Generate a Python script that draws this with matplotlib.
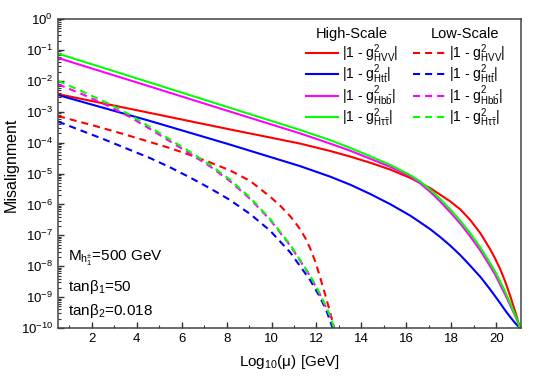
import numpy as np
import matplotlib
matplotlib.use("Agg")
import matplotlib.pyplot as plt
from matplotlib.ticker import LogLocator, MultipleLocator, NullFormatter

plt.rcParams['font.family'] = ['Liberation Sans', 'DejaVu Sans']
plt.rcParams['mathtext.fontset'] = 'custom'
plt.rcParams['mathtext.rm'] = 'Liberation Sans'
plt.rcParams['mathtext.it'] = 'Liberation Sans'
plt.rcParams['mathtext.default'] = 'regular'

# ---- data ----
# x = log10(mu/GeV), lg = log10(misalignment)
# high-scale (solid)
x_hvv_hi = [0.5, 4.6, 8.0, 11.27, 12.61, 13.5, 14.39, 15.28, 16.17, 17.06, 17.95, 18.4, 18.84, 19.3,
            19.73, 19.95, 20.18, 20.4, 20.62, 20.8, 20.92, 21.05]
lg_hvv_hi = [-2.43, -3.04, -3.55, -4.03, -4.27, -4.45, -4.65, -4.87, -5.14, -5.47, -5.90, -6.16, -6.50, -6.94,
             -7.45, -7.75, -8.10, -8.50, -8.96, -9.37, -9.65, -10.0]
x_htt_hi = [0.5, 4.6, 8.0, 11.27, 12.61, 13.5, 14.39, 15.28, 16.17, 16.6, 17.06, 17.5, 17.95, 18.4, 18.84,
            19.3, 19.73, 19.95, 20.18, 20.4, 20.62, 20.82, 21.05]
lg_htt_hi = [-2.46, -3.30, -4.03, -4.76, -5.10, -5.36, -5.66, -5.99, -6.36, -6.57, -6.80, -7.05, -7.33, -7.64, -7.98,
             -8.35, -8.75, -8.97, -9.20, -9.43, -9.64, -9.82, -10.0]
x_hbb_hi = [0.5, 4.0, 8.0, 11.27, 12.61, 13.5, 14.39, 15.28, 16.17, 16.6, 17.06, 17.5, 17.95, 18.4, 18.84,
            19.3, 19.73, 19.95, 20.18, 20.4, 20.62, 20.78, 20.92, 21.05]
lg_hbb_hi = [-1.26, -2.05, -2.96, -3.70, -4.03, -4.26, -4.52, -4.78, -5.09, -5.31, -5.59, -5.90, -6.25, -6.62, -7.03,
             -7.50, -8.00, -8.27, -8.60, -8.92, -9.26, -9.51, -9.74, -10.0]
x_hta_hi = [0.5, 4.0, 8.0, 11.27, 12.61, 13.5, 14.39, 15.28, 16.17, 16.6, 17.06, 17.5, 17.95, 18.4, 18.84,
            19.3, 19.73, 19.95, 20.18, 20.4, 20.62, 20.78, 20.92, 21.05]
lg_hta_hi = [-1.12, -1.92, -2.84, -3.59, -3.92, -4.17, -4.44, -4.72, -5.05, -5.25, -5.52, -5.82, -6.16, -6.53, -6.93,
             -7.40, -7.90, -8.17, -8.50, -8.83, -9.20, -9.47, -9.72, -10.0]

# low-scale (dashed)
x_hvv_lo = [0.5, 2.2, 3.4, 4.6, 5.49, 6.38, 7.27, 8.16, 9.05, 9.94, 10.4, 10.83, 11.05, 11.27, 11.5, 11.72,
            11.95, 12.16, 12.39, 12.61, 12.79]
lg_hvv_lo = [-3.14, -3.47, -3.72, -3.98, -4.18, -4.40, -4.64, -4.90, -5.24, -5.75, -6.05, -6.38, -6.58, -6.80, -7.08, -7.42,
             -7.85, -8.35, -8.92, -9.50, -10.0]
x_htt_lo = [0.5, 2.5, 4.6, 5.49, 6.38, 7.27, 8.16, 9.05, 9.94, 10.83, 11.72, 12.16, 12.45, 12.72]
lg_htt_lo = [-3.32, -3.88, -4.50, -4.80, -5.13, -5.48, -5.86, -6.31, -6.85, -7.55, -8.45, -9.00, -9.45, -10.0]
x_hbb_lo = [0.5, 1.6, 2.73, 3.7, 4.6, 5.49, 6.38, 7.27, 8.16, 9.05, 9.94, 10.83, 11.72, 12.16, 12.61, 12.78]
lg_hbb_lo = [-2.11, -2.44, -2.81, -3.17, -3.56, -3.96, -4.36, -4.77, -5.25, -5.82, -6.50, -7.33, -8.32, -8.92, -9.61, -10.0]
x_hta_lo = [0.5, 1.6, 2.73, 3.7, 4.6, 5.49, 6.38, 7.27, 8.16, 9.05, 9.94, 10.83, 11.72, 12.16, 12.61, 12.78]
lg_hta_lo = [-2.00, -2.35, -2.73, -3.10, -3.50, -3.90, -4.30, -4.72, -5.20, -5.78, -6.47, -7.30, -8.30, -8.90, -9.60, -10.0]

labels = [r'|1 - g$^2_{HVV}$|', r'|1 - g$^2_{Ht\bar{t}}$|',
          r'|1 - g$^2_{Hb\bar{b}}$|', r'|1 - g$^2_{H\tau\bar{\tau}}$|']
colors = ['#ff0000', '#0000ff', '#ff00ff', '#00ff00']

hi = [(x_hvv_hi, lg_hvv_hi), (x_htt_hi, lg_htt_hi), (x_hbb_hi, lg_hbb_hi), (x_hta_hi, lg_hta_hi)]
lo = [(x_hvv_lo, lg_hvv_lo), (x_htt_lo, lg_htt_lo), (x_hbb_lo, lg_hbb_lo), (x_hta_lo, lg_hta_lo)]

fig = plt.figure(figsize=(5.4, 3.86), dpi=100)
ax = fig.add_axes([0.1074, 0.150, 0.8574, 0.8008])

handles_hi = []
handles_lo = []
for (x, lg), c, lab in zip(hi, colors, labels):
    h, = ax.plot(x, 10.0 ** np.array(lg), color=c, lw=1.5, label=lab)
    handles_hi.append(h)
for (x, lg), c, lab in zip(lo, colors, labels):
    h, = ax.plot(x, 10.0 ** np.array(lg), color=c, lw=1.5, ls=(0, (3.4, 2.4)), label=lab)
    handles_lo.append(h)

ax.set_yscale('log')
ax.set_xlim(0.5, 21.1)
ax.set_ylim(1e-10, 1)
ax.yaxis.set_major_locator(LogLocator(base=10, numticks=20))
ax.yaxis.set_minor_locator(LogLocator(base=10, subs=np.arange(2, 10), numticks=20))
ax.yaxis.set_minor_formatter(NullFormatter())
ax.xaxis.set_major_locator(MultipleLocator(2))
ax.xaxis.set_minor_locator(MultipleLocator(1))
ax.tick_params(which='both', direction='in', top=False, right=False, labelsize=9.5,
               colors='#333333', labelcolor='black')
ax.tick_params(which='major', length=4, width=1)
ax.tick_params(which='minor', length=2, width=0.8)
for s in ax.spines.values():
    s.set_color('#444444')
    s.set_linewidth(1.1)

ax.set_xlabel(r'Log$_{10}$($\mu$) [GeV]', fontsize=11, labelpad=6)
ax.set_ylabel('Misalignment', fontsize=11.5)
ax.yaxis.set_label_coords(-0.085, 0.527)

leg = ax.legend(handles_hi + handles_lo, labels + labels, ncol=2, loc='upper left',
                bbox_to_anchor=(0.535, 0.925), frameon=False, fontsize=10,
                handlelength=2.3, handletextpad=0.3, columnspacing=1.05,
                labelspacing=-0.16, borderpad=0, borderaxespad=0)
ax.text(0.635, 0.952, 'High-Scale', transform=ax.transAxes, ha='center', va='center', fontsize=10.5)
ax.text(0.880, 0.952, 'Low-Scale', transform=ax.transAxes, ha='center', va='center', fontsize=10.5)

ax.text(0.022, 0.224, r'M$_{h_1^{\pm}}$=500 GeV', transform=ax.transAxes, ha='left', va='center', fontsize=11)
ax.text(0.022, 0.134, r'tan$\beta_1$=50', transform=ax.transAxes, ha='left', va='center', fontsize=11)
ax.text(0.022, 0.056, r'tan$\beta_2$=0.018', transform=ax.transAxes, ha='left', va='center', fontsize=11)

fig.savefig('out.png', dpi=100)
